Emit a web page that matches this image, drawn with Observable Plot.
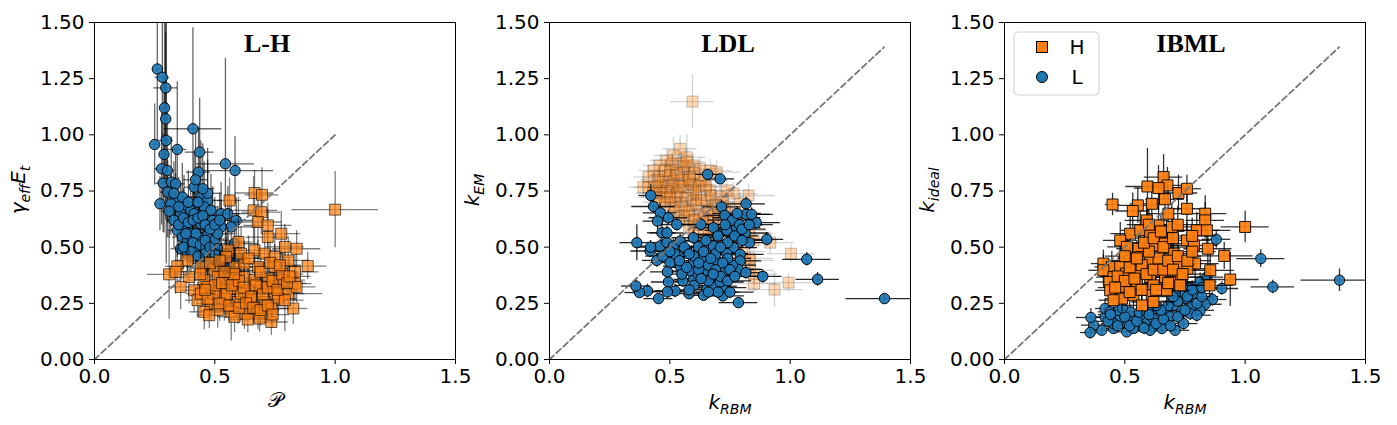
<!DOCTYPE html>
<html><head><meta charset="utf-8">
<script src="https://cdn.jsdelivr.net/npm/d3@7"></script>
<script src="https://cdn.jsdelivr.net/npm/@observablehq/plot@0.6"></script>
<style>
body{margin:0;background:#fff;}
#wrap{position:relative;width:1397px;height:425px;overflow:hidden;background:#fff;}
#wrap svg{position:absolute;top:0;}
</style></head><body><div id="wrap"></div>
<script>
// ---------- ticks ----------
const xTicks = [0, 0.5, 1.0, 1.5];
const yTicks = [0, 0.25, 0.5, 0.75, 1.0, 1.25, 1.5];
const titles = ["L-H", "LDL", "IBML"];
const legendLabels = ["H", "L"];
const diag1 = [0, 1.0];
const diag2 = [0, 1.39];
const diag3 = [0, 1.39];

// ---------- Panel 1 (L-H): L series ----------
const lhL_x = [0.261,0.282,0.296,0.291,0.296,0.25,0.298,0.289,0.279,0.303,0.272,0.285,0.344,0.409,0.437,0.544,0.584,0.432,0.414,0.319,0.337,0.304,0.337,0.442,0.47,0.372,0.4,0.358,0.414,0.456,0.484,0.526,0.554,0.589,0.568,0.526,0.491,0.442,0.386,0.344,0.365,0.4,0.435,0.47,0.498,0.428,0.358,0.386,0.456,0.512,0.547,0.526,0.47,0.582,0.386,0.442,0.554,0.575,0.317,0.365,0.421,0.512,
  0.33,0.35,0.37,0.39,0.41,0.43,0.45,0.46,0.48,0.5,0.52,0.38,0.41,0.44,0.46,0.48,0.5,0.4,0.43,0.37,0.35,0.39,0.43,0.47,0.45,0.42,0.31,0.33,0.56,0.52,0.6];
const lhL_y = [1.293,1.256,1.209,1.12,1.071,0.957,0.975,0.913,0.849,0.841,0.693,0.785,0.935,1.027,0.923,0.871,0.841,0.834,0.767,0.79,0.782,0.745,0.708,0.723,0.708,0.679,0.664,0.649,0.649,0.679,0.664,0.649,0.649,0.619,0.59,0.59,0.619,0.604,0.59,0.575,0.545,0.56,0.545,0.553,0.53,0.501,0.493,0.471,0.479,0.493,0.471,0.441,0.427,0.516,0.53,0.434,0.412,0.397,0.693,0.723,0.56,0.56,
  0.62,0.6,0.63,0.61,0.62,0.63,0.64,0.6,0.58,0.6,0.62,0.56,0.52,0.51,0.53,0.5,0.47,0.48,0.46,0.5,0.68,0.7,0.7,0.74,0.76,0.8,0.66,0.74,0.43,0.4,0.45];
const lhL_xe = [0.02,0.03,0.05,0.02,0.02,0.02,0.03,0.02,0.03,0.03,0.02,0.03,0.04,0.12,0.06,0.12,0.16,0.05,0.04,0.03,0.04,0.03,0.03,0.05,0.06,0.04,0.04,0.03,0.05,0.06,0.07,0.08,0.1,0.08,0.12,0.07,0.06,0.05,0.04,0.03,0.04,0.04,0.05,0.06,0.07,0.05,0.04,0.04,0.06,0.07,0.08,0.07,0.06,0.1,0.04,0.05,0.08,0.09,0.03,0.04,0.05,0.07,
  0.03,0.03,0.04,0.04,0.05,0.05,0.06,0.06,0.07,0.07,0.08,0.04,0.05,0.05,0.06,0.06,0.07,0.05,0.05,0.04,0.03,0.04,0.05,0.06,0.05,0.05,0.03,0.03,0.09,0.08,0.1];
const lhL_ye = [0.35,0.3,0.25,0.4,0.45,0.18,0.55,0.35,0.25,0.3,0.12,0.22,0.3,0.45,0.24,0.47,0.15,0.2,0.15,0.2,0.16,0.14,0.12,0.25,0.18,0.14,0.12,0.13,0.15,0.2,0.16,0.14,0.12,0.1,0.12,0.12,0.15,0.16,0.12,0.12,0.1,0.12,0.14,0.12,0.1,0.12,0.1,0.1,0.12,0.1,0.1,0.09,0.1,0.12,0.1,0.09,0.09,0.08,0.14,0.15,0.12,0.12,
  0.12,0.12,0.13,0.12,0.14,0.15,0.14,0.13,0.12,0.12,0.12,0.11,0.1,0.1,0.11,0.1,0.1,0.1,0.1,0.1,0.13,0.14,0.16,0.2,0.2,0.22,0.12,0.14,0.09,0.08,0.1];

// ---------- Panel 1 (L-H): H series ----------
const lhH_x = [1.0,0.665,0.696,0.561,0.661,0.693,0.679,0.72,0.776,0.72,0.84,0.791,0.598,0.554,0.665,0.707,0.749,0.805,0.886,0.833,0.386,0.344,0.31,0.337,0.393,0.442,0.498,0.582,0.623,0.679,0.749,0.456,0.512,0.568,0.623,0.665,0.721,0.777,0.833,0.414,0.47,0.526,0.582,0.637,0.693,0.749,0.805,0.428,0.484,0.54,0.596,0.651,0.707,0.763,0.826,0.456,0.512,0.568,0.623,0.679,0.735,0.477,0.582,0.637,0.686,0.735,0.791,0.84,0.498,0.442,0.609,0.358,0.547,0.609,
  0.5,0.53,0.55,0.57,0.6,0.62,0.65,0.67,0.7,0.72,0.74,0.76,0.78,0.8,0.52,0.56,0.6,0.63,0.66,0.69,0.72,0.74,0.47,0.46,0.44,0.48,0.52,0.64,0.69,0.73,0.77,0.81,0.58,0.54];
const lhH_y = [0.667,0.741,0.733,0.708,0.664,0.656,0.612,0.597,0.56,0.545,0.493,0.501,0.523,0.486,0.486,0.471,0.456,0.441,0.416,0.39,0.441,0.415,0.379,0.39,0.367,0.412,0.397,0.412,0.427,0.412,0.412,0.353,0.367,0.36,0.367,0.353,0.36,0.353,0.338,0.308,0.323,0.308,0.316,0.308,0.323,0.293,0.293,0.264,0.249,0.271,0.256,0.264,0.256,0.271,0.227,0.212,0.219,0.212,0.204,0.212,0.227,0.197,0.19,0.178,0.182,0.167,0.264,0.323,0.293,0.293,0.293,0.323,0.456,0.471,
  0.33,0.34,0.29,0.33,0.35,0.32,0.28,0.33,0.29,0.32,0.35,0.31,0.38,0.34,0.25,0.24,0.23,0.25,0.23,0.22,0.24,0.2,0.27,0.31,0.38,0.43,0.44,0.45,0.39,0.43,0.42,0.37,0.38,0.39];
const lhH_xe = [0.18,0.08,0.07,0.05,0.1,0.08,0.1,0.1,0.08,0.09,0.1,0.08,0.06,0.07,0.1,0.09,0.08,0.09,0.08,0.1,0.05,0.05,0.09,0.05,0.06,0.06,0.07,0.08,0.09,0.08,0.1,0.06,0.08,0.08,0.09,0.1,0.09,0.1,0.07,0.05,0.06,0.07,0.08,0.09,0.1,0.2,0.07,0.05,0.06,0.07,0.08,0.09,0.09,0.08,0.06,0.06,0.07,0.07,0.08,0.08,0.08,0.05,0.07,0.08,0.08,0.07,0.08,0.08,0.07,0.06,0.08,0.05,0.08,0.08,
  0.07,0.07,0.08,0.08,0.09,0.09,0.09,0.09,0.09,0.1,0.1,0.1,0.09,0.08,0.07,0.07,0.08,0.08,0.08,0.08,0.08,0.07,0.06,0.06,0.06,0.06,0.07,0.09,0.09,0.09,0.09,0.09,0.08,0.08];
const lhH_ye = [0.17,0.1,0.12,0.1,0.15,0.1,0.12,0.1,0.1,0.12,0.08,0.1,0.2,0.1,0.12,0.1,0.1,0.1,0.06,0.08,0.1,0.08,0.2,0.1,0.12,0.1,0.1,0.1,0.1,0.12,0.1,0.1,0.1,0.12,0.1,0.1,0.1,0.08,0.08,0.1,0.1,0.1,0.1,0.1,0.1,0.08,0.08,0.08,0.08,0.1,0.1,0.08,0.08,0.08,0.07,0.08,0.08,0.13,0.07,0.08,0.07,0.06,0.07,0.06,0.06,0.06,0.14,0.07,0.1,0.1,0.1,0.1,0.1,0.12,
  0.1,0.1,0.1,0.1,0.1,0.1,0.08,0.1,0.08,0.1,0.1,0.08,0.1,0.08,0.08,0.08,0.07,0.08,0.07,0.07,0.07,0.06,0.08,0.1,0.1,0.1,0.1,0.1,0.1,0.1,0.1,0.08,0.1,0.1];

// ---------- Panel 2 (LDL): L series ----------
const ldlL_x = [0.657,0.709,0.421,0.432,0.46,0.494,0.449,0.529,0.629,0.363,0.418,0.446,0.46,0.488,0.515,0.467,0.488,0.543,0.598,0.619,0.571,0.536,0.501,0.543,0.598,0.633,0.654,0.681,0.702,0.737,0.778,0.681,0.715,0.729,0.778,0.817,0.817,0.859,0.84,0.813,0.831,0.903,0.765,0.737,0.792,0.792,0.695,0.654,0.681,0.729,0.785,0.816,0.886,1.069,1.114,1.392,0.785,0.72,0.72,0.654,0.64,0.58,0.554,0.522,0.494,0.49,0.453,0.407,0.374,0.359,0.598,0.584,0.619,0.681,0.709,
  0.55,0.6,0.62,0.66,0.69,0.71,0.74,0.76,0.66,0.7,0.75,0.52,0.56,0.6,0.64,0.69,0.74,0.77,0.76,0.79,0.47,0.49,0.42,0.8,0.74,
  0.5,0.54,0.58,0.62,0.67,0.71,0.72,0.75,0.77,0.68,0.63,0.57,0.65,0.7,0.73,0.78,0.8,0.83,0.58,0.66];
const ldlL_y = [0.824,0.804,0.73,0.681,0.653,0.631,0.616,0.601,0.601,0.52,0.483,0.441,0.505,0.52,0.505,0.564,0.564,0.527,0.542,0.501,0.483,0.461,0.431,0.416,0.431,0.453,0.498,0.505,0.557,0.575,0.587,0.587,0.679,0.641,0.631,0.693,0.646,0.609,0.646,0.563,0.52,0.535,0.498,0.471,0.468,0.439,0.439,0.394,0.372,0.397,0.401,0.387,0.37,0.446,0.357,0.271,0.253,0.283,0.32,0.313,0.286,0.293,0.35,0.305,0.345,0.301,0.271,0.305,0.298,0.327,0.357,0.394,0.379,0.327,0.345,
  0.38,0.33,0.4,0.42,0.4,0.37,0.35,0.42,0.35,0.3,0.3,0.47,0.5,0.46,0.48,0.47,0.52,0.55,0.62,0.6,0.46,0.39,0.5,0.53,0.45,
  0.48,0.44,0.47,0.43,0.45,0.5,0.43,0.4,0.37,0.38,0.36,0.41,0.53,0.55,0.6,0.65,0.58,0.6,0.31,0.3];
const ldlL_xe = [0.05,0.06,0.05,0.09,0.07,0.08,0.06,0.07,0.08,0.07,0.08,0.06,0.08,0.07,0.08,0.06,0.07,0.08,0.09,0.08,0.08,0.07,0.08,0.07,0.09,0.08,0.1,0.09,0.1,0.09,0.1,0.08,0.08,0.09,0.1,0.08,0.1,0.1,0.09,0.1,0.09,0.07,0.1,0.09,0.1,0.09,0.08,0.09,0.1,0.1,0.1,0.09,0.08,0.1,0.09,0.16,0.08,0.09,0.1,0.09,0.08,0.08,0.08,0.08,0.07,0.07,0.06,0.06,0.06,0.06,0.08,0.08,0.09,0.1,0.1,
  0.08,0.08,0.09,0.09,0.09,0.1,0.1,0.1,0.09,0.09,0.1,0.08,0.08,0.09,0.09,0.09,0.1,0.1,0.1,0.1,0.07,0.07,0.06,0.1,0.1,
  0.08,0.08,0.09,0.09,0.09,0.1,0.1,0.1,0.1,0.09,0.09,0.08,0.09,0.1,0.1,0.1,0.1,0.1,0.08,0.09];
const ldlL_ye = [0.02,0.02,0.05,0.03,0.04,0.03,0.04,0.03,0.03,0.08,0.03,0.03,0.03,0.03,0.03,0.04,0.03,0.03,0.03,0.03,0.03,0.03,0.03,0.03,0.03,0.03,0.03,0.03,0.03,0.03,0.03,0.03,0.03,0.03,0.03,0.03,0.03,0.03,0.03,0.03,0.03,0.03,0.03,0.03,0.03,0.03,0.03,0.03,0.03,0.03,0.03,0.03,0.03,0.03,0.03,0.02,0.02,0.02,0.03,0.03,0.02,0.02,0.03,0.03,0.04,0.03,0.02,0.03,0.02,0.03,0.03,0.03,0.03,0.03,0.03,
  0.03,0.03,0.03,0.03,0.03,0.03,0.03,0.03,0.03,0.03,0.03,0.03,0.03,0.03,0.03,0.03,0.03,0.03,0.03,0.03,0.03,0.03,0.03,0.03,0.03,
  0.03,0.03,0.03,0.03,0.03,0.03,0.03,0.03,0.03,0.03,0.03,0.03,0.03,0.03,0.03,0.03,0.03,0.03,0.02,0.02];

// ---------- Panel 2 (LDL): H series ----------
const ldlH_x = [0.594,0.543,0.515,0.571,0.488,0.46,0.543,0.598,0.432,0.501,0.557,0.626,0.668,0.695,0.411,0.46,0.515,0.584,0.64,0.411,0.46,0.501,0.557,0.598,0.668,0.737,0.488,0.543,0.598,0.654,0.709,0.765,0.827,0.515,0.571,0.626,0.681,0.737,0.792,0.598,0.654,0.681,0.805,0.831,0.848,0.917,1.003,0.993,0.935,0.85,0.834,0.834,0.598,0.64,0.446,0.39,
  0.47,0.49,0.51,0.53,0.55,0.57,0.59,0.61,0.63,0.52,0.55,0.58,0.61,0.64,0.66,0.7,0.72,0.62,0.66,0.7,0.56,0.6,0.5,0.45,0.48,0.72,0.75,0.68,0.76,0.8,0.83,0.78,0.85,
  0.46,0.5,0.54,0.58,0.62,0.53,0.57,0.51,0.48,0.44,0.56,0.6,0.63,0.67,0.69,0.65,0.54,0.58,0.64,0.68,0.73,0.74,0.52,0.46,0.43];
const ldlH_y = [1.148,0.938,0.908,0.9,0.886,0.864,0.871,0.864,0.841,0.841,0.834,0.849,0.841,0.834,0.812,0.812,0.797,0.812,0.797,0.767,0.767,0.76,0.767,0.753,0.753,0.753,0.723,0.723,0.708,0.708,0.723,0.738,0.73,0.679,0.664,0.649,0.671,0.679,0.693,0.619,0.612,0.575,0.575,0.56,0.53,0.52,0.471,0.342,0.311,0.338,0.441,0.397,0.56,0.53,0.723,0.767,
  0.79,0.75,0.78,0.74,0.8,0.72,0.78,0.74,0.8,0.7,0.68,0.66,0.69,0.63,0.66,0.65,0.7,0.6,0.58,0.6,0.86,0.83,0.82,0.8,0.69,0.55,0.62,0.52,0.52,0.48,0.45,0.44,0.38,
  0.74,0.72,0.77,0.8,0.77,0.83,0.88,0.87,0.84,0.77,0.64,0.62,0.71,0.73,0.69,0.77,0.62,0.59,0.56,0.62,0.66,0.58,0.66,0.7,0.74];
const ldlH_xe = [0.09,0.07,0.08,0.08,0.07,0.07,0.08,0.09,0.06,0.08,0.08,0.09,0.09,0.1,0.06,0.07,0.08,0.09,0.1,0.06,0.07,0.08,0.08,0.09,0.1,0.1,0.07,0.08,0.09,0.1,0.1,0.1,0.11,0.08,0.08,0.09,0.1,0.1,0.1,0.08,0.09,0.1,0.1,0.1,0.1,0.1,0.1,0.15,0.12,0.1,0.1,0.1,0.09,0.09,0.07,0.06,
  0.07,0.07,0.08,0.08,0.08,0.08,0.09,0.09,0.09,0.08,0.08,0.09,0.09,0.09,0.1,0.1,0.1,0.09,0.1,0.1,0.08,0.09,0.08,0.07,0.07,0.1,0.1,0.1,0.1,0.1,0.1,0.1,0.1,
  0.07,0.08,0.08,0.09,0.09,0.08,0.08,0.08,0.07,0.07,0.08,0.09,0.09,0.1,0.1,0.09,0.08,0.09,0.09,0.1,0.1,0.1,0.08,0.07,0.07];
const ldlH_ye = [0.12,0.06,0.08,0.1,0.05,0.05,0.05,0.05,0.05,0.05,0.05,0.05,0.05,0.05,0.05,0.05,0.05,0.05,0.05,0.05,0.05,0.05,0.05,0.05,0.05,0.05,0.05,0.05,0.05,0.05,0.05,0.05,0.05,0.05,0.05,0.05,0.05,0.05,0.05,0.05,0.05,0.05,0.05,0.05,0.05,0.05,0.04,0.04,0.08,0.04,0.05,0.05,0.05,0.05,0.05,0.05,
  0.05,0.05,0.05,0.05,0.05,0.05,0.05,0.05,0.05,0.05,0.05,0.05,0.05,0.05,0.05,0.05,0.05,0.05,0.05,0.05,0.05,0.05,0.05,0.05,0.05,0.05,0.05,0.05,0.05,0.05,0.05,0.05,0.05,
  0.05,0.05,0.05,0.05,0.05,0.05,0.06,0.05,0.05,0.05,0.05,0.05,0.05,0.05,0.05,0.05,0.05,0.05,0.05,0.05,0.05,0.05,0.05,0.05,0.05];

// ---------- Panel 3 (IBML): L series ----------
const ibL_x = [0.88,1.065,1.115,1.392,0.903,0.864,0.834,0.799,0.785,0.758,0.73,0.778,0.737,0.702,0.674,0.647,0.612,0.591,0.619,0.654,0.709,0.744,0.772,0.563,0.536,0.508,0.508,0.481,0.453,0.453,0.418,0.418,0.404,0.37,0.359,0.356,0.571,0.619,0.674,0.813,0.799,0.702,0.758,0.813,0.841,0.474,0.522,0.439,0.688,0.605,0.536,
  0.43,0.47,0.5,0.52,0.55,0.58,0.6,0.63,0.66,0.69,0.72,0.75,0.68,0.72,0.76,0.8,0.82,0.65,0.78,0.82,0.56,0.44,0.49,0.7,0.63];
const ibL_y = [0.535,0.449,0.323,0.353,0.316,0.267,0.246,0.323,0.293,0.271,0.286,0.234,0.219,0.241,0.212,0.197,0.212,0.175,0.145,0.138,0.13,0.16,0.204,0.197,0.175,0.123,0.16,0.182,0.138,0.16,0.19,0.227,0.13,0.153,0.187,0.12,0.145,0.182,0.175,0.219,0.197,0.308,0.323,0.345,0.367,0.219,0.212,0.212,0.19,0.13,0.138,
  0.17,0.15,0.19,0.15,0.17,0.14,0.2,0.16,0.18,0.15,0.19,0.22,0.24,0.26,0.28,0.25,0.28,0.22,0.31,0.32,0.21,0.2,0.23,0.28,0.24];
const ibL_xe = [0.06,0.1,0.09,0.16,0.07,0.06,0.07,0.07,0.08,0.08,0.08,0.07,0.07,0.07,0.07,0.06,0.06,0.06,0.06,0.06,0.06,0.06,0.06,0.06,0.06,0.05,0.05,0.05,0.05,0.05,0.05,0.04,0.05,0.05,0.06,0.04,0.06,0.06,0.06,0.06,0.06,0.07,0.07,0.07,0.07,0.05,0.05,0.05,0.06,0.06,0.05,
  0.05,0.05,0.05,0.05,0.06,0.06,0.06,0.06,0.06,0.06,0.07,0.07,0.07,0.07,0.07,0.07,0.07,0.06,0.07,0.07,0.06,0.05,0.05,0.07,0.06];
const ibL_ye = [0.04,0.04,0.03,0.05,0.03,0.03,0.03,0.03,0.03,0.03,0.03,0.03,0.03,0.03,0.03,0.03,0.03,0.03,0.02,0.02,0.02,0.03,0.03,0.03,0.03,0.02,0.03,0.03,0.02,0.03,0.03,0.04,0.02,0.03,0.04,0.03,0.02,0.03,0.03,0.03,0.03,0.04,0.04,0.04,0.04,0.03,0.03,0.03,0.03,0.02,0.02,
  0.03,0.03,0.03,0.03,0.03,0.03,0.03,0.03,0.03,0.03,0.03,0.03,0.03,0.03,0.03,0.03,0.03,0.03,0.04,0.04,0.03,0.03,0.03,0.03,0.03];

// ---------- Panel 3 (IBML): H series ----------
const ibH_x = [0.449,0.594,0.661,0.677,0.64,0.723,0.758,0.667,0.612,0.554,0.533,0.681,0.758,0.834,0.834,1.0,0.591,0.64,0.695,0.522,0.564,0.605,0.799,0.841,0.758,0.787,0.845,0.481,0.509,0.557,0.619,0.667,0.703,0.913,0.411,0.446,0.481,0.522,0.564,0.605,0.647,0.723,0.792,0.76,0.855,0.411,0.453,0.505,0.55,0.605,0.667,0.73,0.938,0.436,0.481,0.55,0.619,0.688,0.852,0.439,0.488,0.536,0.612,0.571,0.619,0.453,0.674,
  0.47,0.5,0.52,0.54,0.57,0.59,0.62,0.64,0.66,0.68,0.7,0.72,0.74,0.76,0.78,0.6,0.58,0.62,0.66,0.7,0.55,0.5,0.46,0.52,0.57,0.63,0.68,0.73,0.6,0.65,0.72,0.78];
const ibH_y = [0.69,0.77,0.812,0.775,0.763,0.741,0.76,0.713,0.693,0.686,0.661,0.649,0.671,0.649,0.619,0.59,0.619,0.597,0.59,0.56,0.575,0.553,0.575,0.575,0.53,0.508,0.493,0.53,0.501,0.493,0.508,0.516,0.471,0.461,0.427,0.412,0.412,0.441,0.456,0.441,0.427,0.427,0.427,0.404,0.397,0.397,0.367,0.382,0.397,0.367,0.367,0.367,0.356,0.345,0.323,0.338,0.33,0.345,0.33,0.308,0.271,0.286,0.286,0.241,0.256,0.264,0.308,
  0.37,0.35,0.41,0.36,0.42,0.38,0.4,0.45,0.4,0.44,0.4,0.46,0.38,0.44,0.48,0.48,0.52,0.54,0.5,0.54,0.45,0.46,0.32,0.3,0.31,0.31,0.34,0.33,0.6,0.57,0.6,0.55];
const ibH_xe = [0.03,0.09,0.08,0.07,0.1,0.08,0.06,0.08,0.09,0.08,0.07,0.09,0.08,0.09,0.08,0.1,0.09,0.09,0.1,0.08,0.08,0.09,0.1,0.1,0.1,0.1,0.1,0.07,0.08,0.09,0.1,0.1,0.1,0.12,0.05,0.07,0.07,0.08,0.09,0.09,0.1,0.1,0.1,0.1,0.1,0.06,0.07,0.08,0.08,0.09,0.1,0.1,0.12,0.06,0.07,0.08,0.09,0.1,0.1,0.06,0.07,0.08,0.09,0.08,0.09,0.06,0.1,
  0.07,0.07,0.08,0.08,0.08,0.09,0.09,0.09,0.1,0.1,0.1,0.1,0.1,0.1,0.1,0.09,0.09,0.09,0.1,0.1,0.08,0.08,0.07,0.07,0.08,0.09,0.1,0.1,0.09,0.1,0.1,0.1];
const ibH_ye = [0.05,0.17,0.1,0.08,0.1,0.08,0.06,0.08,0.1,0.08,0.08,0.1,0.1,0.08,0.08,0.07,0.1,0.1,0.1,0.08,0.08,0.08,0.08,0.08,0.08,0.08,0.08,0.08,0.08,0.08,0.08,0.08,0.08,0.06,0.06,0.07,0.07,0.07,0.08,0.08,0.08,0.08,0.08,0.08,0.08,0.07,0.07,0.07,0.07,0.07,0.07,0.07,0.12,0.07,0.07,0.07,0.07,0.07,0.06,0.06,0.06,0.06,0.06,0.05,0.05,0.05,0.07,
  0.07,0.07,0.07,0.07,0.07,0.07,0.07,0.08,0.07,0.08,0.07,0.08,0.07,0.08,0.08,0.08,0.08,0.08,0.08,0.08,0.08,0.07,0.06,0.06,0.06,0.06,0.06,0.06,0.08,0.08,0.08,0.08];

// ---------- helpers ----------
function rows(xs, ys, xe, ye) { return xs.map((x, i) => ({x, y: ys[i], xe: xe[i], ye: ye[i]})); }

const BLUE = "#1f77b4", ORANGE = "#ff7f0e";
const W = 467, H = 425;

function seriesMarks(data, o) {
  return [
    Plot.ruleX(data, {x: "x", y1: d => d.y - d.ye, y2: d => d.y + d.ye, stroke: o.err, strokeOpacity: o.errOp, strokeWidth: 1.3, clip: true}),
    Plot.ruleY(data, {y: "y", x1: d => d.x - d.xe, x2: d => d.x + d.xe, stroke: o.err, strokeOpacity: o.errOp, strokeWidth: 1.3, clip: true}),
    Plot.dot(data, {x: "x", y: "y", symbol: o.symbol, r: o.r, fill: o.fill, fillOpacity: o.op, stroke: "#000", strokeOpacity: o.edgeOp, strokeWidth: 1, clip: true})
  ];
}

function panel(seriesList, diag) {
  const marks = [];
  for (const s of seriesList) marks.push(...seriesMarks(s.data, s));
  marks.push(Plot.line(diag, {x: d => d, y: d => d, stroke: "#777", strokeWidth: 1.8, strokeDasharray: "6,3.5"}));
  marks.push(Plot.frame({stroke: "#000", strokeWidth: 1}));
  marks.push(Plot.axisX({ticks: xTicks, tickFormat: d3.format(".1f"), tickSize: 5, tickPadding: 4, fontSize: 20, label: null}));
  marks.push(Plot.axisY({ticks: yTicks, tickFormat: d3.format(".2f"), tickSize: 5, tickPadding: 5, fontSize: 20, label: null}));
  return Plot.plot({
    width: W, height: H,
    marginLeft: 94, marginRight: 12, marginTop: 22, marginBottom: 66,
    x: {domain: [0, 1.5]},
    y: {domain: [0, 1.5]},
    style: {fontFamily: "DejaVu Sans", fontSize: "20px", background: "transparent", overflow: "visible", color: "#000"},
    marks
  });
}

const circ = {symbol: "circle", r: 5.2, fill: BLUE};
const sq = {symbol: "square", r: 6.2, fill: ORANGE};

const p1 = panel([
  {data: rows(lhL_x, lhL_y, lhL_xe, lhL_ye), ...circ, op: 0.9, edgeOp: 0.9, err: "#000", errOp: 0.6},
  {data: rows(lhH_x, lhH_y, lhH_xe, lhH_ye), ...sq, op: 0.7, edgeOp: 0.6, err: "#000", errOp: 0.5}
], diag1);
const p2 = panel([
  {data: rows(ldlH_x, ldlH_y, ldlH_xe, ldlH_ye), ...sq, op: 0.3, edgeOp: 0.22, err: "#555", errOp: 0.25},
  {data: rows(ldlL_x, ldlL_y, ldlL_xe, ldlL_ye), ...circ, op: 0.95, edgeOp: 1, err: "#000", errOp: 0.85}
], diag2);
const p3 = panel([
  {data: rows(ibL_x, ibL_y, ibL_xe, ibL_ye), ...circ, op: 0.9, edgeOp: 0.9, err: "#000", errOp: 0.8},
  {data: rows(ibH_x, ibH_y, ibH_xe, ibH_ye), ...sq, op: 0.92, edgeOp: 0.9, err: "#000", errOp: 0.8}
], diag3);

const wrap = document.getElementById("wrap");
[[p1, 0], [p2, 455], [p3, 910]].forEach(([svg, left]) => { svg.style.left = left + "px"; wrap.appendChild(svg); });

// ---------- titles & axis labels ----------
function addTitle(svg, text, x) {
  d3.select(svg).append("text").attr("x", x).attr("y", 52).attr("text-anchor", "middle")
    .attr("font-family", "Liberation Serif, serif").attr("font-weight", "bold").attr("font-size", 26).attr("fill", "#000").text(text);
}
addTitle(p1, titles[0], 267);
addTitle(p2, titles[1], 273);
addTitle(p3, titles[2], 281);

function addLabel(svg, parts, x, y, rotate) {
  const t = d3.select(svg).append("text")
    .attr("transform", rotate ? `translate(${x},${y}) rotate(-90)` : `translate(${x},${y})`)
    .attr("text-anchor", "middle").attr("font-family", "DejaVu Sans").attr("font-style", "italic").attr("fill", "#000");
  let sub = false;
  for (const [s, isSub] of parts) {
    const ts = t.append("tspan").attr("font-size", isSub ? 14 : 20).text(s);
    if (isSub && !sub) ts.attr("dy", 5);
    if (!isSub && sub) ts.attr("dy", -5);
    sub = isSub;
  }
}
addLabel(p1, [["γ", false], ["eff", true], ["E", false], ["t", true]], 25, 190, true);
addLabel(p2, [["k", false], ["EM", true]], 24, 190, true);
addLabel(p3, [["k", false], ["ideal", true]], 24, 190, true);
d3.select(p1).append("text").attr("x", 275).attr("y", 407).attr("text-anchor", "middle")
  .attr("font-family", "DejaVu Sans, serif").attr("font-size", 21).attr("fill", "#000").text("𝒫");
addLabel(p2, [["k", false], ["RBM", true]], 275, 409, false);
addLabel(p3, [["k", false], ["RBM", true]], 275, 409, false);

// ---------- legend (panel 3) ----------
const lg = d3.select(p3).append("g");
lg.append("rect").attr("x", 104).attr("y", 32).attr("width", 85).attr("height", 63).attr("rx", 4)
  .attr("fill", "#fff").attr("fill-opacity", 0.8).attr("stroke", "#d0d0d0");
lg.append("rect").attr("x", 126.5).attr("y", 41.5).attr("width", 11).attr("height", 11)
  .attr("fill", ORANGE).attr("stroke", "#000");
lg.append("circle").attr("cx", 132).attr("cy", 77).attr("r", 5.5).attr("fill", BLUE).attr("stroke", "#000");
lg.append("text").attr("x", 167).attr("y", 54).attr("font-family", "DejaVu Sans").attr("font-size", 20).attr("fill", "#000").text(legendLabels[0]);
lg.append("text").attr("x", 167).attr("y", 84).attr("font-family", "DejaVu Sans").attr("font-size", 20).attr("fill", "#000").text(legendLabels[1]);
</script></body></html>
